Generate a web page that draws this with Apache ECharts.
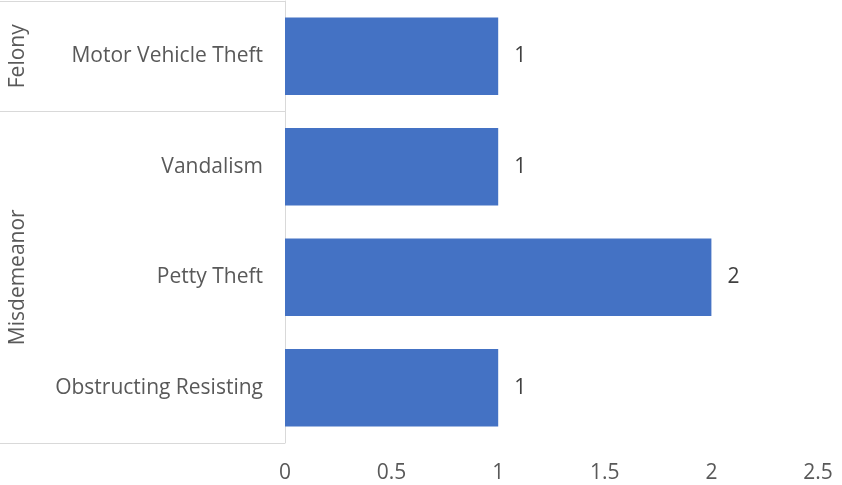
<!DOCTYPE html>
<html>
<head>
<meta charset="utf-8">
<script src="https://cdn.jsdelivr.net/npm/echarts@6/dist/echarts.min.js"></script>
<style>
html,body{margin:0;padding:0;background:#fff;}
#chart{width:842px;height:485px;}
</style>
</head>
<body>
<div id="chart"></div>
<script>
// Data
const categories = ['Motor Vehicle Theft', 'Vandalism', 'Petty Theft', 'Obstructing Resisting'];
const values = [1, 1, 2, 1];
const groupNames = ['Felony', 'Misdemeanor'];
const groupSpans = [1, 3];
const xTicks = [0, 0.5, 1, 1.5, 2, 2.5];

const FONT = 'Open Sans';
const FS = 21;
const groupCenters = [];
let acc = 0;
groupSpans.forEach(function (s) { groupCenters.push(acc + s / 2); acc += s; });
const groupBoundaryIdx = [];
acc = 0;
groupSpans.forEach(function (s) { groupBoundaryIdx.push(acc); acc += s; });

const chart = echarts.init(document.getElementById('chart'), null, {renderer: 'canvas'});
chart.setOption({
  animation: false,
  backgroundColor: '#ffffff',
  textStyle: {fontFamily: FONT},
  grid: {left: 285, right: 24, top: 1, bottom: 42, containLabel: false},
  xAxis: {
    type: 'value', min: xTicks[0], max: xTicks[xTicks.length - 1], interval: 0.5,
    axisLine: {show: false}, axisTick: {show: false}, splitLine: {show: false},
    axisLabel: {color: '#595959', fontSize: FS, fontFamily: FONT, margin: 20,
      formatter: function (v) { return String(v); }}
  },
  yAxis: [{
    type: 'category', data: categories, inverse: true,
    axisLine: {show: true, lineStyle: {color: '#d9d9d9', width: 1}},
    axisTick: {show: true, length: 285, lineStyle: {color: '#d9d9d9', width: 1},
      interval: function (idx) { return groupBoundaryIdx.indexOf(idx) >= 0; }},
    axisLabel: {color: '#595959', fontSize: FS, fontFamily: FONT, margin: 22}
  }, {
    type: 'value', min: 0, max: categories.length, inverse: true, position: 'left', offset: 252,
    axisLine: {show: false}, axisTick: {show: false}, splitLine: {show: false},
    axisLabel: {show: true, customValues: groupCenters, rotate: 90, color: '#595959', fontSize: FS, fontFamily: FONT, margin: 4,
      formatter: function (v) { const i = groupCenters.indexOf(v); return i >= 0 ? groupNames[i] : ''; }}
  }],
  series: [{
    type: 'bar', data: values, yAxisIndex: 0, barCategoryGap: '30%',
    itemStyle: {color: '#4472c4'},
    label: {show: true, position: 'right', distance: 16, color: '#404040', fontSize: FS, fontFamily: FONT}
  }]
});
</script>
</body>
</html>
